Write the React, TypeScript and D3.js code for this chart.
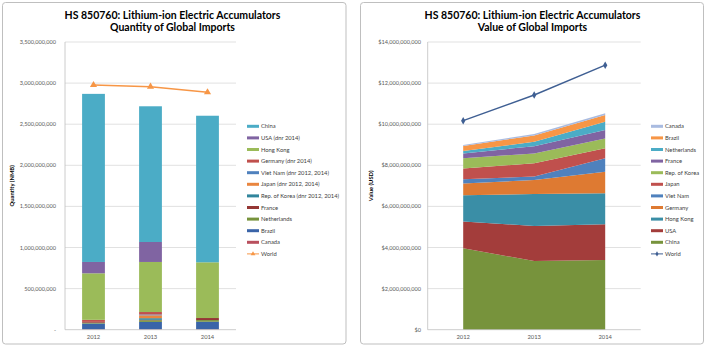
import React from "react";
import * as d3 from "d3";

const years = ["2012", "2013", "2014"];

// Quantity of global imports (units)
const qtyCanada = [5e6, 5e6, 5e6];
const qtyBrazil = [70e6, 90e6, 92e6];
const qtyNetherlands = [10e6, 20e6, 20e6];
const qtyFrance = [10e6, 5e6, 25e6];
const qtyKorea = [0, 20e6, 0];
const qtyJapan = [0, 35e6, 0];
const qtyVietNam = [0, 10e6, 0];
const qtyGermany = [25e6, 30e6, 0];
const qtyHongKong = [566e6, 609e6, 678e6];
const qtyUSA = [138e6, 243e6, 0];
const qtyChina = [2045e6, 1651e6, 1783e6];
const qtyWorld = [2977e6, 2956e6, 2888e6];

// Value of global imports (USD)
const valChina = [3.96e9, 3.34e9, 3.39e9];
const valUSA = [1.3e9, 1.71e9, 1.74e9];
const valHongKong = [1.28e9, 1.55e9, 1.51e9];
const valGermany = [0.58e9, 0.68e9, 1.05e9];
const valVietNam = [0.2e9, 0.17e9, 0.65e9];
const valJapan = [0.53e9, 0.65e9, 0.49e9];
const valKorea = [0.49e9, 0.48e9, 0.48e9];
const valFrance = [0.24e9, 0.35e9, 0.41e9];
const valNetherlands = [0.11e9, 0.22e9, 0.4e9];
const valBrazil = [0.25e9, 0.3e9, 0.33e9];
const valCanada = [0.05e9, 0.07e9, 0.08e9];
const valWorld = [10.17e9, 11.42e9, 12.87e9];

const qtyTicks = [0, 5e8, 1e9, 1.5e9, 2e9, 2.5e9, 3e9, 3.5e9];
const valTicks = [0, 2e9, 4e9, 6e9, 8e9, 10e9, 12e9, 14e9];

// stacking order, bottom first
const qtySeries = [
  { name: "Canada", values: qtyCanada, color: "#b9505e" },
  { name: "Brazil", values: qtyBrazil, color: "#3a64a8" },
  { name: "Netherlands", values: qtyNetherlands, color: "#77933c" },
  { name: "France", values: qtyFrance, color: "#953735" },
  { name: "Rep. of Korea (dnr 2012, 2014)", values: qtyKorea, color: "#31859c" },
  { name: "Japan (dnr 2012, 2014)", values: qtyJapan, color: "#e9853f" },
  { name: "Viet Nam (dnr 2012, 2014)", values: qtyVietNam, color: "#4f81bd" },
  { name: "Germany (dnr 2014)", values: qtyGermany, color: "#c0504d" },
  { name: "Hong Kong", values: qtyHongKong, color: "#9bbb59" },
  { name: "USA (dnr 2014)", values: qtyUSA, color: "#8064a2" },
  { name: "China", values: qtyChina, color: "#4bacc6" },
];

const valSeries = [
  { name: "China", values: valChina, color: "#77933c" },
  { name: "USA", values: valUSA, color: "#a33d3b" },
  { name: "Hong Kong", values: valHongKong, color: "#3a8ea6" },
  { name: "Germany", values: valGermany, color: "#de7a32" },
  { name: "Viet Nam", values: valVietNam, color: "#4f81bd" },
  { name: "Japan", values: valJapan, color: "#c0504d" },
  { name: "Rep. of Korea", values: valKorea, color: "#9bbb59" },
  { name: "France", values: valFrance, color: "#8064a2" },
  { name: "Netherlands", values: valNetherlands, color: "#4bacc6" },
  { name: "Brazil", values: valBrazil, color: "#f79646" },
  { name: "Canada", values: valCanada, color: "#a9bbe0" },
];

const FONT = "Lato, 'Open Sans', sans-serif";
const plotTop = 42;
const plotBottom = 329.7;

function toRows(series: { name: string; values: number[] }[]) {
  return years.map((y, i) => {
    const row: Record<string, number | string> = { year: y };
    series.forEach((s) => (row[s.name] = s.values[i]));
    return row;
  });
}

function Legend({ x, y, items, world }: { x: number; y: number; items: { name: string; color: string }[]; world: React.ReactNode }) {
  const step = 11.6;
  return (
    <g transform={`translate(${x},${y})`}>
      {items.map((d, i) => (
        <g key={d.name} transform={`translate(0,${i * step})`}>
          <rect x={0} y={-1.5} width={12} height={3} fill={d.color} />
          <text x={14} y={2} fontSize={5.8} fill="#404040" fontFamily={FONT}>
            {d.name}
          </text>
        </g>
      ))}
      <g transform={`translate(0,${items.length * step})`}>
        {world}
        <text x={14} y={2} fontSize={5.8} fill="#404040" fontFamily={FONT}>
          World
        </text>
      </g>
    </g>
  );
}

function Title({ cx, sub }: { cx: number; sub: string }) {
  return (
    <g fontFamily={FONT} fontWeight="bold" fontSize={10.5} fill="#000" textAnchor="middle">
      <text x={cx} y={19}>HS 850760: Lithium-ion Electric Accumulators</text>
      <text x={cx} y={31}>{sub}</text>
    </g>
  );
}

function QuantityChart() {
  const left = 65;
  const right = 236;
  const x = d3.scaleBand<string>().domain(years).range([left, right]).paddingInner(0.6).paddingOuter(0.3);
  const y = d3.scaleLinear().domain([0, 3.5e9]).range([plotBottom, plotTop]);
  const stacked = d3.stack<Record<string, any>>().keys(qtySeries.map((s) => s.name))(toRows(qtySeries));
  const fmt = d3.format(",");
  const cx = (yr: string) => (x(yr) ?? 0) + x.bandwidth() / 2;
  const line = d3
    .line<number>()
    .x((_, i) => cx(years[i]))
    .y((d) => y(d));
  const tri = d3.symbol(d3.symbolTriangle, 22)() ?? "";

  return (
    <g>
      <rect x={2.5} y={2.5} width={343.5} height={341.5} rx={3} fill="#fff" stroke="#bfbfbf" />
      <Title cx={172.5} sub="Quantity of Global Imports" />
      {qtyTicks.map((t) => (
        <g key={t}>
          {t > 0 && <line x1={left} x2={right} y1={y(t)} y2={y(t)} stroke="#d9d9d9" strokeWidth={0.8} />}
          <text x={56} y={y(t) + 2} fontSize={5.6} fill="#595959" textAnchor="end" fontFamily={FONT}>
            {t === 0 ? "-" : fmt(t)}
          </text>
        </g>
      ))}
      {stacked.map((layer, li) => (
        <g key={layer.key} fill={qtySeries[li].color}>
          {layer.map((d, i) => (
            <rect key={years[i]} x={x(years[i])} width={x.bandwidth()} y={y(d[1])} height={Math.max(0, y(d[0]) - y(d[1]))} />
          ))}
        </g>
      ))}
      <line x1={left} x2={left} y1={plotTop} y2={plotBottom} stroke="#bfbfbf" strokeWidth={0.8} />
      <line x1={left} x2={right} y1={plotBottom} y2={plotBottom} stroke="#bfbfbf" strokeWidth={0.8} />
      {years.map((yr) => (
        <text key={yr} x={cx(yr)} y={339} fontSize={5.8} fill="#595959" textAnchor="middle" fontFamily={FONT}>
          {yr}
        </text>
      ))}
      <path d={line(qtyWorld) ?? ""} fill="none" stroke="#f79646" strokeWidth={1.4} />
      {qtyWorld.map((v, i) => (
        <path key={i} d={tri} transform={`translate(${cx(years[i])},${y(v)})`} fill="#f79646" />
      ))}
      <text
        transform={`translate(14,${(plotTop + plotBottom) / 2}) rotate(-90)`}
        fontSize={5.8}
        fontWeight="bold"
        textAnchor="middle"
        fontFamily={FONT}
        fill="#000"
      >
        Quantity (NMB)
      </text>
      <Legend
        x={247}
        y={126.3}
        items={[...qtySeries].reverse()}
        world={
          <g>
            <line x1={0} x2={12} y1={0} y2={0} stroke="#f79646" strokeWidth={1} />
            <path d={d3.symbol(d3.symbolTriangle, 10)() ?? ""} transform="translate(6,0)" fill="#f79646" />
          </g>
        }
      />
    </g>
  );
}

function ValueChart() {
  const left = 427.7;
  const right = 640.7;
  const x = d3.scalePoint<string>().domain(years).range([left, right]).padding(0.5);
  const y = d3.scaleLinear().domain([0, 14e9]).range([plotBottom, plotTop]);
  const stacked = d3.stack<Record<string, any>>().keys(valSeries.map((s) => s.name))(toRows(valSeries));
  const fmt = d3.format("$,");
  const area = d3
    .area<d3.SeriesPoint<Record<string, any>>>()
    .x((d) => x(d.data.year) ?? 0)
    .y0((d) => y(d[0]))
    .y1((d) => y(d[1]));
  const line = d3
    .line<number>()
    .x((_, i) => x(years[i]) ?? 0)
    .y((d) => y(d));
  const diamond = d3.symbol(d3.symbolDiamond, 16)() ?? "";

  return (
    <g>
      <rect x={360.5} y={2.5} width={343} height={341.5} rx={3} fill="#fff" stroke="#bfbfbf" />
      <Title cx={532.5} sub="Value of Global Imports" />
      {valTicks.map((t) => (
        <g key={t}>
          {t > 0 && <line x1={left} x2={right} y1={y(t)} y2={y(t)} stroke="#d9d9d9" strokeWidth={0.8} />}
          <text x={421} y={y(t) + 2} fontSize={5.6} fill="#595959" textAnchor="end" fontFamily={FONT}>
            {fmt(t)}
          </text>
        </g>
      ))}
      {stacked.map((layer, li) => (
        <path key={layer.key} d={area(layer) ?? ""} fill={valSeries[li].color} />
      ))}
      <line x1={left} x2={left} y1={plotTop} y2={plotBottom} stroke="#bfbfbf" strokeWidth={0.8} />
      <line x1={left} x2={right} y1={plotBottom} y2={plotBottom} stroke="#bfbfbf" strokeWidth={0.8} />
      {years.map((yr) => (
        <text key={yr} x={x(yr)} y={339} fontSize={5.8} fill="#595959" textAnchor="middle" fontFamily={FONT}>
          {yr}
        </text>
      ))}
      <path d={line(valWorld) ?? ""} fill="none" stroke="#3f5f93" strokeWidth={1.4} />
      {valWorld.map((v, i) => (
        <path key={i} d={diamond} transform={`translate(${x(years[i])},${y(v)})`} fill="#3f5f93" />
      ))}
      <text
        transform={`translate(373,${(plotTop + plotBottom) / 2}) rotate(-90)`}
        fontSize={5.8}
        fontWeight="bold"
        textAnchor="middle"
        fontFamily={FONT}
        fill="#000"
      >
        Value (USD)
      </text>
      <Legend
        x={651}
        y={126.3}
        items={[...valSeries].reverse()}
        world={
          <g>
            <line x1={0} x2={12} y1={0} y2={0} stroke="#3f5f93" strokeWidth={1} />
            <path d={d3.symbol(d3.symbolDiamond, 8)() ?? ""} transform="translate(6,0)" fill="#3f5f93" />
          </g>
        }
      />
    </g>
  );
}

export default function App() {
  return (
    <svg width={709} height={348} style={{ position: "absolute", left: 0, top: 0, background: "#fff" }}>
      <QuantityChart />
      <ValueChart />
    </svg>
  );
}
